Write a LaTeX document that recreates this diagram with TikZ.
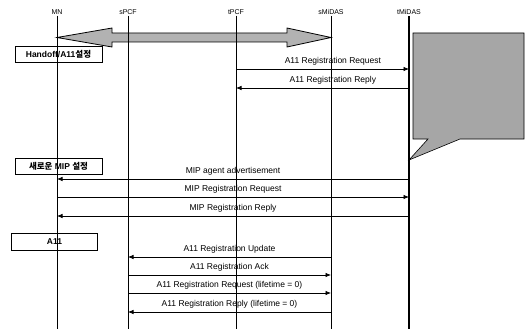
\documentclass[tikz,border=0pt]{standalone}
\usepackage{fontspec}
\setmainfont{Liberation Sans}
\newfontfamily\krfont{Noto Sans CJK KR}
\usetikzlibrary{arrows.meta}

\begin{document}
\begin{tikzpicture}[x=1pt, y=-1pt, every node/.style={font=\fontsize{8.5}{9}\selectfont}]
  \tikzset{
    life/.style={line width=0.7pt},
    msg/.style={line width=0.7pt, -{Latex[length=5.5pt, width=4.5pt]}},
    head/.style={font=\fontsize{7}{8}\selectfont, inner sep=1pt},
    phase/.style={draw, line width=0.9pt, minimum width=87pt, minimum height=16pt, inner sep=1pt,
      font=\bfseries\fontsize{8.5}{9}\selectfont},
    bigarrow/.style={draw, line width=0.8pt, fill=gray!60},
    callout/.style={draw, line width=0.6pt, fill=gray!70}
  }
  \useasboundingbox (0,0) rectangle (529,329);

  \node[head] (mn) at (57, 12) {MN};
  \node[head] (spcf) at (128, 12) {sPCF};
  \node[head] (tpcf) at (236, 12) {tPCF};
  \node[head] (smidas) at (331, 12) {sMiDAS};
  \node[head] (tmidas) at (409, 12) {tMiDAS};
  \foreach \n in {mn, spcf, tpcf, smidas, tmidas}
    \coordinate (\n-end) at (\n |- 0,329);

  \node[phase] (handoff) at (58.5, 54.5) {Handoff/A11{\krfont 설정}};
  \node[phase] (newmip) at (58.5, 166) {{\krfont 새로운} MIP {\krfont 설정}};
  \node[phase, minimum width=86pt, minimum height=17pt] (a11) at (54.5, 242) {A11};

  \draw[bigarrow] (mn |- 0,37.5) -- (112,28) -- (112,33) -- (287,33) -- (287,28)
    -- (smidas |- 0,37.5) -- (287,47) -- (287,42) -- (112,42) -- (112,47) -- cycle;
  \draw[callout] (413,33) -- (524,33) -- (524,139) -- (460,139) -- (tmidas |- 0,160)
    -- (428,139) -- (413,139) -- cycle;

  \foreach \n in {mn, spcf, tpcf, smidas}
    \draw[life] (\n) -- (\n-end);
  \draw[line width=1.3pt] (tmidas) -- (tmidas-end);

  \draw[msg] (tpcf |- 0,69) -- (tmidas |- 0,69) node[pos=0.56, above] {A11 Registration Request};
  \draw[msg] (tmidas |- 0,88) -- (tpcf |- 0,88) node[pos=0.44, above] {A11 Registration Reply};
  \draw[msg] (tmidas |- 0,179) -- (mn |- 0,179) node[midway, above] {MIP agent advertisement};
  \draw[msg] (mn |- 0,197) -- (tmidas |- 0,197) node[midway, above] {MIP Registration Request};
  \draw[msg] (tmidas |- 0,216) -- (mn |- 0,216) node[midway, above] {MIP Registration Reply};
  \draw[msg] (smidas |- 0,257) -- (spcf |- 0,257) node[midway, above] {A11 Registration Update};
  \draw[msg] (spcf |- 0,275) -- (smidas |- 0,275) node[midway, above] {A11 Registration Ack};
  \draw[msg] (spcf |- 0,293) -- (smidas |- 0,293) node[midway, above] {A11 Registration Request (lifetime = 0)};
  \draw[msg] (smidas |- 0,312) -- (spcf |- 0,312) node[midway, above] {A11 Registration Reply (lifetime = 0)};
\end{tikzpicture}
\end{document}
